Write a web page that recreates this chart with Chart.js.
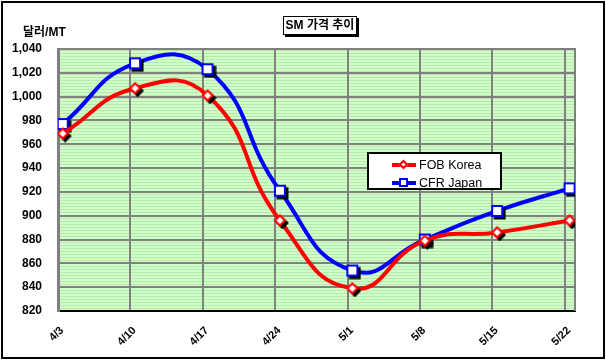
<!DOCTYPE html>
<html>
<head>
<meta charset="utf-8">
<script src="https://cdn.jsdelivr.net/npm/chart.js@4.4.1/dist/chart.umd.min.js"></script>
<style>
  html, body { margin: 0; padding: 0; background: #fff; }
  #wrap { position: relative; width: 606px; height: 364px; overflow: hidden; }
  #frame { position: absolute; left: 1px; top: 1px; width: 600px; height: 354px; border: 2px solid #000; pointer-events: none; }
  canvas { position: absolute; left: 0; top: 0; }
  #title { position: absolute; left: 283px; top: 16px; width: 72px; height: 17px; border: 1px solid #000;
           box-shadow: 2px 2px 0 #000; background: #fff; font: bold 12px "Liberation Sans", "Noto Sans CJK KR", sans-serif;
           text-align: center; line-height: 17px; color: #000; }
  #ytitle { position: absolute; left: 23px; top: 22px; font: bold 12px "Liberation Sans", "Noto Sans CJK KR", sans-serif; color: #000; }
  #legend { position: absolute; left: 367px; top: 152px; width: 131px; height: 34px; border: 2px solid #000; background: #fff;
            font: 12.5px "Liberation Sans", sans-serif; color: #000; }
  .row { position: absolute; left: 0; height: 14px; width: 131px; }
  .line { position: absolute; left: 23px; top: 6px; width: 24px; height: 4px; }
  .mk { position: absolute; box-sizing: border-box; background: #fff; }
  .txt { position: absolute; left: 50px; top: 0; line-height: 16px; white-space: nowrap; }
</style>
</head>
<body>
<div id="wrap">
  <canvas id="c" width="606" height="364"></canvas>
  <div id="frame"></div>
  <div id="title">SM 가격 추이</div>
  <div id="ytitle">달러/MT</div>
  <div id="legend"></div>
</div>
<script>
const categories = ['4/3', '4/10', '4/17', '4/24', '5/1', '5/8', '5/15', '5/22'];
const fobKorea = [969, 1007, 1001, 896, 839, 879, 886, 896];
const cfrJapan = [977, 1028, 1023, 921, 854, 880, 904, 923];
const seriesNames = ['FOB Korea', 'CFR Japan'];
const yMin = 820, yMax = 1040, yStep = 20;

const pointShift = 0.065;
const toPoints = vals => vals.map((v, i) => ({ x: i + pointShift, y: v }));

function makeMarker(shape, color) {
  const c = document.createElement('canvas');
  c.width = 18; c.height = 18;
  const g = c.getContext('2d');
  const path = (cx, cy) => {
    g.beginPath();
    if (shape === 'diamond') {
      g.moveTo(cx, cy - 5); g.lineTo(cx + 5, cy); g.lineTo(cx, cy + 5); g.lineTo(cx - 5, cy); g.closePath();
    } else {
      g.rect(cx - 5, cy - 5, 10, 10);
    }
  };
  path(11.5, 11.5); g.fillStyle = '#000'; g.fill();
  g.lineWidth = 2; g.strokeStyle = '#000'; g.stroke();
  path(9, 9); g.fillStyle = '#fff'; g.fill();
  g.lineWidth = 2; g.strokeStyle = color; g.stroke();
  return c;
}

const stripe = document.createElement('canvas');
stripe.width = 4; stripe.height = 3;
(() => {
  const g = stripe.getContext('2d');
  g.fillStyle = '#ccffcc'; g.fillRect(0, 0, 4, 2);
  g.fillStyle = '#bde8a8'; g.fillRect(0, 2, 4, 1);
})();

const bgPlugin = {
  id: 'plotBg',
  beforeDraw(chart) {
    const { ctx, chartArea: a } = chart;
    ctx.save();
    ctx.fillStyle = ctx.createPattern(stripe, 'repeat');
    ctx.fillRect(a.left, a.top, a.right - a.left, a.bottom - a.top);
    ctx.restore();
  },
  beforeDatasetsDraw(chart) {
    const { ctx, chartArea: a } = chart;
    ctx.save();
    ctx.strokeStyle = '#808080';
    ctx.lineWidth = 2;
    ctx.beginPath();
    ctx.moveTo(a.left, a.top); ctx.lineTo(a.right, a.top); ctx.lineTo(a.right, a.bottom);
    ctx.stroke();
    ctx.restore();
  }
};

const colors = ['#ff0000', '#0000ff'];
const shapes = ['diamond', 'square'];
const series = [fobKorea, cfrJapan];

new Chart(document.getElementById('c'), {
  type: 'line',
  data: {
    datasets: series.map((s, k) => ({
      label: seriesNames[k],
      data: toPoints(s),
      borderColor: colors[k],
      borderWidth: 4,
      tension: 0.5,
      pointStyle: makeMarker(shapes[k], colors[k]),
      pointRadius: 5,
      fill: false
    }))
  },
  options: {
    responsive: false,
    devicePixelRatio: 1,
    animation: false,
    layout: { padding: { left: 0, top: 49, right: 31, bottom: 0 } },
    plugins: { legend: { display: false }, tooltip: { enabled: false } },
    scales: {
      x: {
        type: 'linear',
        min: 0,
        max: 7.14,
        afterBuildTicks(scale) {
          scale.ticks = categories.map((_, i) => ({ value: i }));
        },
        afterFit(scale) { scale.height = 53; },
        ticks: {
          stepSize: 1,
          autoSkip: false,
          minRotation: 45,
          maxRotation: 45,
          padding: 13,
          labelOffset: 4,
          color: '#000',
          font: { family: '"Liberation Sans", sans-serif', size: 11, weight: 'bold' },
          callback: v => categories[v]
        },
        grid: { color: '#808080', lineWidth: 2, drawTicks: false },
        border: { color: '#000', width: 2 }
      },
      y: {
        min: yMin,
        max: yMax,
        afterFit(scale) { scale.width = 58; },
        ticks: {
          stepSize: yStep,
          padding: 16,
          color: '#000',
          font: { family: '"Liberation Sans", sans-serif', size: 12, weight: 'bold' },
          callback: v => v.toLocaleString('en-US')
        },
        grid: { color: '#808080', lineWidth: 2, drawTicks: false },
        border: { color: '#808080', width: 3 }
      }
    }
  },
  plugins: [bgPlugin]
});

// legend (HTML, from series names/colors)
const legend = document.getElementById('legend');
seriesNames.forEach((name, k) => {
  const row = document.createElement('div');
  row.className = 'row';
  row.style.top = (k === 0 ? 3 : 21) + 'px';
  const line = document.createElement('div');
  line.className = 'line';
  line.style.background = colors[k];
  const mk = document.createElement('div');
  mk.className = 'mk';
  mk.style.border = '2px solid ' + colors[k];
  if (shapes[k] === 'diamond') {
    mk.style.width = '7px'; mk.style.height = '7px';
    mk.style.left = '31px'; mk.style.top = '4px';
    mk.style.transform = 'rotate(45deg)';
  } else {
    mk.style.width = '9px'; mk.style.height = '9px';
    mk.style.left = '30px'; mk.style.top = '3px';
  }
  const txt = document.createElement('div');
  txt.className = 'txt';
  txt.textContent = name;
  row.appendChild(line); row.appendChild(mk); row.appendChild(txt);
  legend.appendChild(row);
});
</script>
</body>
</html>
